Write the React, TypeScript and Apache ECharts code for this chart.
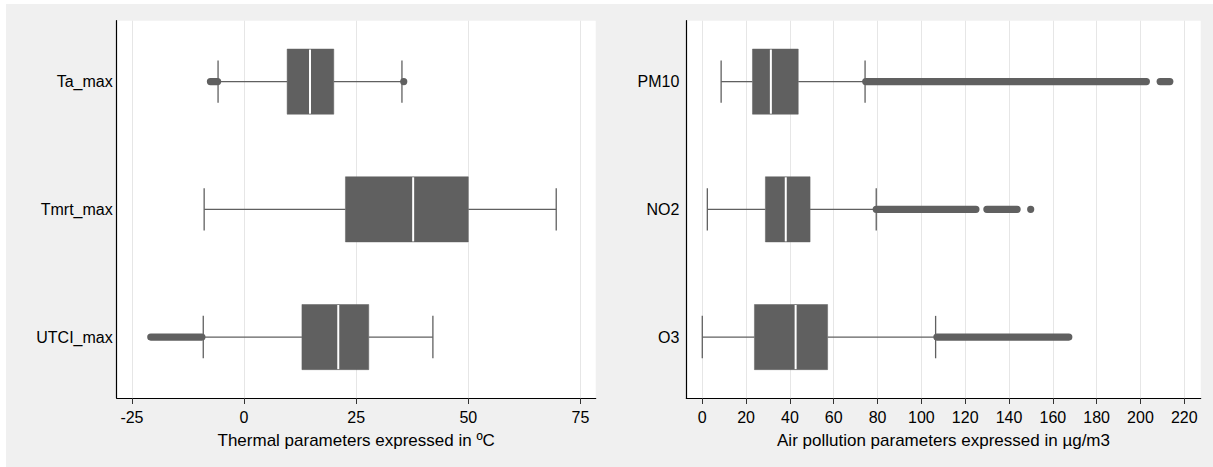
import React, { useEffect, useRef } from "react";
import * as echarts from "echarts";

// ---------- Thermal parameters (ºC) ----------
const thermalCategories = ["Ta_max", "Tmrt_max", "UTCI_max"];
const thermalLow = [-5.8, -8.9, -9.1];
const thermalQ1 = [9.6, 22.6, 12.9];
const thermalMedian = [14.7, 37.7, 21.0];
const thermalQ3 = [20.0, 50.0, 27.8];
const thermalHigh = [35.2, 69.6, 42.1];
// outlier runs: [category index (1-based), first outlier, last outlier]
const thermalOutlierRuns = [
  [1, -7.5, -5.9],
  [1, 35.6, 35.6],
  [3, -20.8, -9.4],
];
const thermalTicks = [-25, 0, 25, 50, 75];

// ---------- Air pollution parameters (µg/m3) ----------
const pollutionCategories = ["PM10", "NO2", "O3"];
const pollutionLow = [8.6, 2.3, 0.0];
const pollutionQ1 = [22.9, 28.8, 23.8];
const pollutionMedian = [31.3, 38.1, 42.6];
const pollutionQ3 = [43.8, 49.2, 57.2];
const pollutionHigh = [74.3, 79.4, 106.5];
const pollutionOutlierRuns = [
  [1, 74.6, 202.7],
  [1, 209.0, 213.4],
  [2, 79.4, 124.9],
  [2, 129.9, 143.7],
  [2, 149.9, 149.9],
  [3, 107.1, 167.3],
];
const pollutionTicks = [0, 20, 40, 60, 80, 100, 120, 140, 160, 180, 200, 220];

const categoryPositions = [1, 2, 3];

const BOX_COLOR = "#606060";
const FONT = "'Liberation Sans', Arial, sans-serif";

function buildBoxData(low: number[], q1: number[], med: number[], q3: number[], high: number[]) {
  return low.map((_, i) => [i + 1, low[i], q1[i], med[i], q3[i], high[i]]);
}

function renderBox(params: any, api: any) {
  const cat = api.value(0);
  const c = (v: number) => api.coord([v, cat]);
  const [xLow, yc] = c(api.value(1));
  const xQ1 = c(api.value(2))[0];
  const xMed = c(api.value(3))[0];
  const xQ3 = c(api.value(4))[0];
  const xHigh = c(api.value(5))[0];
  const unit = Math.abs(api.coord([api.value(1), cat + 1])[1] - yc);
  const boxHalf = unit * 0.255;
  const capHalf = unit * 0.166;
  const ls = { stroke: BOX_COLOR, lineWidth: 1.3 };
  return {
    type: "group",
    children: [
      { type: "line", shape: { x1: xLow, y1: yc, x2: xQ1, y2: yc }, style: ls },
      { type: "line", shape: { x1: xQ3, y1: yc, x2: xHigh, y2: yc }, style: ls },
      { type: "line", shape: { x1: xLow, y1: yc - capHalf, x2: xLow, y2: yc + capHalf }, style: ls },
      { type: "line", shape: { x1: xHigh, y1: yc - capHalf, x2: xHigh, y2: yc + capHalf }, style: ls },
      {
        type: "rect",
        shape: { x: xQ1, y: yc - boxHalf, width: xQ3 - xQ1, height: boxHalf * 2 },
        style: { fill: BOX_COLOR, stroke: BOX_COLOR, lineWidth: 0.5 },
      },
      {
        type: "line",
        shape: { x1: xMed, y1: yc - boxHalf + 0.5, x2: xMed, y2: yc + boxHalf - 0.5 },
        style: { stroke: "#ffffff", lineWidth: 2 },
      },
    ],
  };
}

function renderOutliers(params: any, api: any) {
  const cat = api.value(0);
  const [x1, yc] = api.coord([api.value(1), cat]);
  const x2 = api.coord([api.value(2), cat])[0];
  const r = 3.6;
  return {
    type: "rect",
    shape: { x: x1 - r, y: yc - r, width: x2 - x1 + 2 * r, height: 2 * r, r },
    style: { fill: BOX_COLOR },
  };
}

function makeXAxis(gridIndex: number, min: number, max: number, ticks: number[], name: string) {
  return {
    type: "value",
    gridIndex,
    min,
    max,
    name,
    nameLocation: "middle",
    nameGap: 34,
    nameTextStyle: { fontSize: 17, color: "#000", fontFamily: FONT },
    axisLine: { show: true, onZero: false, lineStyle: { color: "#000", width: 1.2 } },
    axisTick: { show: true, customValues: ticks, length: 6, lineStyle: { color: "#333", width: 1 } },
    axisLabel: {
      customValues: ticks,
      fontSize: 16,
      color: "#000",
      fontFamily: FONT,
      margin: 11,
    },
    splitLine: { show: true, lineStyle: { color: "#e6e6e6", width: 1 } },
  };
}

function makeYAxis(gridIndex: number, categories: string[], margin: number) {
  return {
    type: "value",
    gridIndex,
    min: 0.523,
    max: 3.477,
    inverse: true,
    axisLine: { show: true, onZero: false, lineStyle: { color: "#000", width: 1.2 } },
    axisTick: { show: false },
    splitLine: { show: false },
    axisLabel: {
      customValues: categoryPositions,
      formatter: (v: number) => categories[Math.round(v) - 1] ?? "",
      fontSize: 16,
      color: "#000",
      fontFamily: FONT,
      margin,
    },
  };
}

export default function App() {
  const ref = useRef<HTMLDivElement>(null);

  useEffect(() => {
    if (!ref.current) return;
    const chart = echarts.init(ref.current, null, { renderer: "svg" });
    chart.setOption({
      animation: false,
      grid: [
        { left: 116.7, top: 20.7, width: 479, height: 377.3, show: true, backgroundColor: "#ffffff", borderWidth: 0 },
        { left: 686.3, top: 20.7, width: 514.4, height: 377.3, show: true, backgroundColor: "#ffffff", borderWidth: 0 },
      ],
      xAxis: [
        makeXAxis(0, -28.4, 78.4, thermalTicks, "Thermal parameters expressed in ºC"),
        makeXAxis(1, -7.3, 227.5, pollutionTicks, "Air pollution parameters expressed in µg/m3"),
      ],
      yAxis: [makeYAxis(0, thermalCategories, 4), makeYAxis(1, pollutionCategories, 7)],
      series: [
        {
          type: "custom",
          xAxisIndex: 0,
          yAxisIndex: 0,
          clip: false,
          encode: { x: [1, 2, 3, 4, 5], y: 0 },
          renderItem: renderBox,
          data: buildBoxData(thermalLow, thermalQ1, thermalMedian, thermalQ3, thermalHigh),
        },
        {
          type: "custom",
          xAxisIndex: 0,
          yAxisIndex: 0,
          clip: false,
          encode: { x: [1, 2], y: 0 },
          renderItem: renderOutliers,
          data: thermalOutlierRuns,
        },
        {
          type: "custom",
          xAxisIndex: 1,
          yAxisIndex: 1,
          clip: false,
          encode: { x: [1, 2, 3, 4, 5], y: 0 },
          renderItem: renderBox,
          data: buildBoxData(pollutionLow, pollutionQ1, pollutionMedian, pollutionQ3, pollutionHigh),
        },
        {
          type: "custom",
          xAxisIndex: 1,
          yAxisIndex: 1,
          clip: false,
          encode: { x: [1, 2], y: 0 },
          renderItem: renderOutliers,
          data: pollutionOutlierRuns,
        },
      ],
    });
    return () => chart.dispose();
  }, []);

  return (
    <div style={{ position: "fixed", left: 0, top: 0, width: 1213, height: 467, background: "#ffffff" }}>
      <div style={{ position: "absolute", left: 6, top: 4, width: 1207, height: 463, background: "#f0f0f0" }} />
      <div ref={ref} style={{ position: "absolute", left: 0, top: 0, width: 1213, height: 467 }} />
    </div>
  );
}
